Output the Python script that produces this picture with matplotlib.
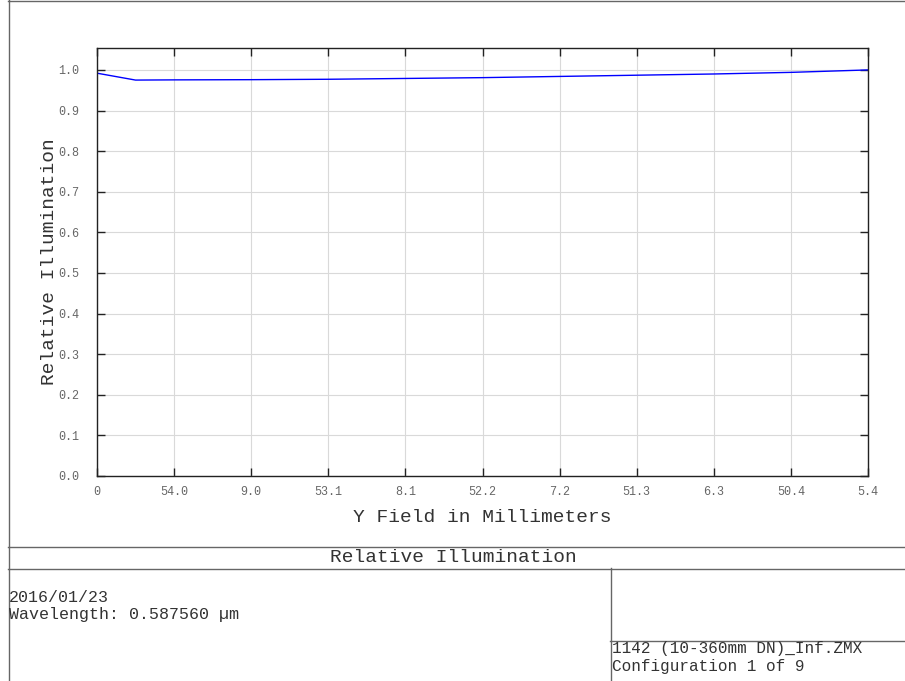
import matplotlib
matplotlib.use("Agg")
import matplotlib.pyplot as plt
from matplotlib.lines import Line2D

# Data
field_mm = [0, 0.225, 0.45, 0.9, 1.35, 1.8, 2.25, 2.7, 3.15, 3.6, 4.05, 4.5]
rel_illum = [0.992, 0.975, 0.9755, 0.976, 0.977, 0.979, 0.981, 0.984, 0.987, 0.990, 0.994, 1.0]
xtick_vals = [0, 0.45, 0.9, 1.35, 1.8, 2.25, 2.7, 3.15, 3.6, 4.05, 4.5]
xtick_labels = ["0", "54.0", "9.0", "53.1", "8.1", "52.2", "7.2", "51.3", "6.3", "50.4", "5.4"]
ytick_vals = [0.0, 0.1, 0.2, 0.3, 0.4, 0.5, 0.6, 0.7, 0.8, 0.9, 1.0]
ytick_labels = ["0.0", "0.1", "0.2", "0.3", "0.4", "0.5", "0.6", "0.7", "0.8", "0.9", "1.0"]

title = "Relative Illumination"
xlabel = "Y Field in Millimeters"
ylabel = "Relative Illumination"
date_txt = "2016/01/23"
wave_txt = "Wavelength: 0.587560 µm"
file_txt = "1142 (10-360mm DN)_Inf.ZMX"
conf_txt = "Configuration 1 of 9"

plt.rcParams['font.family'] = ['Liberation Mono', 'DejaVu Sans Mono']

W, H = 905, 681
fig = plt.figure(figsize=(W / 100, H / 100), dpi=100)

def fx(px):
    return px / W

def fy(py):
    return 1 - py / H

ax = fig.add_axes([fx(97), fy(476), (868 - 97) / W, (476 - 48) / H])
ax.plot(field_mm, rel_illum, color='#0000ff', lw=1.0)
ax.set_xlim(0, 4.5)
ax.set_ylim(0, 1.054)
ax.set_xticks(xtick_vals)
ax.set_xticklabels(xtick_labels)
ax.set_yticks(ytick_vals)
ax.set_yticklabels(ytick_labels)
ax.tick_params(axis='both', direction='in', length=6, width=1, color='#222222',
               labelsize=8.5, labelcolor='#666666', top=True, right=True)
ax.tick_params(axis='x', pad=7)
ax.tick_params(axis='y', pad=13)
ax.grid(True, color='#d9d9d9', lw=0.8)
ax.set_axisbelow(True)
for s in ax.spines.values():
    s.set_color('#222222')
    s.set_linewidth(1.0)
ax.set_xlabel(xlabel, fontsize=14, color='#333333', labelpad=8)
ax.set_ylabel(ylabel, fontsize=14, color='#333333', labelpad=0)

# Frame lines
lc = '#666666'
def hline(y, x0, x1):
    fig.add_artist(Line2D([fx(x0), fx(x1)], [fy(y), fy(y)], transform=fig.transFigure, color=lc, lw=1))
def vline(x, y0, y1):
    fig.add_artist(Line2D([fx(x), fx(x)], [fy(y0), fy(y1)], transform=fig.transFigure, color=lc, lw=1))

vline(8.5, 0, 681)
hline(0.5, 8, 905)
hline(546.5, 8, 905)
hline(568.5, 8, 905)
vline(610.5, 568, 681)
hline(640.5, 610, 905)

fig.text(fx(453), fy(557), title, ha='center', va='center', fontsize=14, color='#333333')
fig.text(fx(9), fy(598), date_txt, ha='left', va='center', fontsize=12, color='#333333')
fig.text(fx(9), fy(615), wave_txt, ha='left', va='center', fontsize=12, color='#333333')
fig.text(fx(612), fy(649), file_txt, ha='left', va='center', fontsize=11.5, color='#333333')
fig.text(fx(612), fy(666), conf_txt, ha='left', va='center', fontsize=11.5, color='#333333')

fig.savefig("out.png", dpi=100)
